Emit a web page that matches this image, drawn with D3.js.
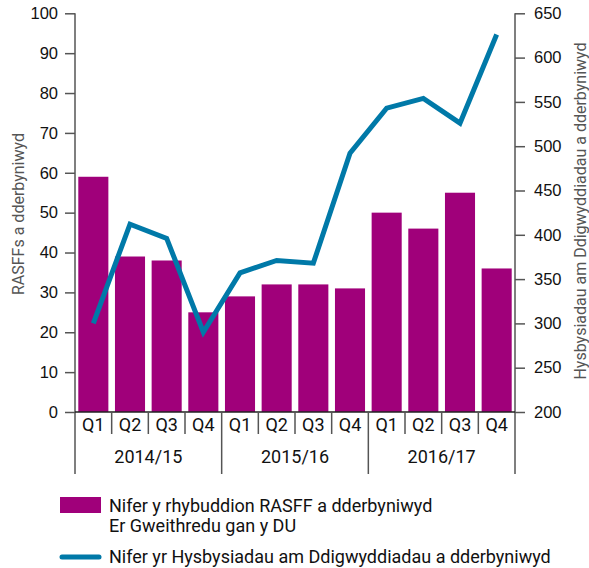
<!DOCTYPE html>
<html><head><meta charset="utf-8">
<script src="https://cdn.jsdelivr.net/npm/d3@7"></script>
<style>body{margin:0;background:#fff}svg{display:block;font-family:Roboto,"Noto Sans",sans-serif}</style>
</head><body><svg id="c" width="589" height="568"></svg>
<script>
const quarters = ["Q1","Q2","Q3","Q4","Q1","Q2","Q3","Q4","Q1","Q2","Q3","Q4"];
const years = ["2014/15","2015/16","2016/17"];
const rasff = [59,39,38,25,29,32,32,31,50,46,55,36];
const incidents = [300,412,396,290,357,371,368,492,543,554,526,626];
const leftTicks = [0,10,20,30,40,50,60,70,80,90,100];
const rightTicks = [200,250,300,350,400,450,500,550,600,650];
const barColor = "#a0007a", lineColor = "#0079a8", axisColor = "#555";

const svg = d3.select("#c");
const L = 75, R = 515, T = 13.3, B = 412;
const x = d3.scaleBand().domain(d3.range(12)).range([L,R]).paddingInner(0.18).paddingOuter(0.09);
const yL = d3.scaleLinear().domain([0,100]).range([B,T]);
const yR = d3.scaleLinear().domain([200,650]).range([B,T]);

// bars
svg.append("g").selectAll("rect").data(rasff).join("rect")
  .attr("x",(d,i)=>x(i)).attr("width",x.bandwidth())
  .attr("y",d=>yL(d)).attr("height",d=>B-yL(d)).attr("fill",barColor);

// line
svg.append("path").datum(incidents)
  .attr("d", d3.line().x((d,i)=>x(i)+x.bandwidth()/2).y(d=>yR(d)))
  .attr("fill","none").attr("stroke",lineColor).attr("stroke-width",5).attr("stroke-linejoin","miter");

// left axis
const gl = svg.append("g").attr("transform",`translate(${L},0)`)
  .call(d3.axisLeft(yL).tickValues(leftTicks).tickSize(10).tickPadding(7));
gl.select(".domain").remove();
gl.selectAll("line").attr("stroke",axisColor).attr("stroke-width",1.5);
gl.selectAll("text").attr("font-size",16.5).attr("fill","#111");
svg.append("line").attr("x1",L).attr("x2",L).attr("y1",T).attr("y2",474).attr("stroke",axisColor).attr("stroke-width",1.5);

// right axis
const gr = svg.append("g").attr("transform",`translate(${R},0)`)
  .call(d3.axisRight(yR).tickValues(rightTicks).tickSize(10).tickPadding(9));
gr.select(".domain").remove();
gr.selectAll("line").attr("stroke",axisColor).attr("stroke-width",1.5);
gr.selectAll("text").attr("font-size",16.5).attr("fill","#111");
svg.append("line").attr("x1",R).attr("x2",R).attr("y1",T).attr("y2",474).attr("stroke",axisColor).attr("stroke-width",1.5);

// baseline
svg.append("line").attr("x1",L).attr("x2",R).attr("y1",B).attr("y2",B).attr("stroke","#222").attr("stroke-width",1.5);

// x axis separators
const step = x.step();
for (let i=1;i<12;i++){
  const xx = L + step*i;
  svg.append("line").attr("x1",xx).attr("x2",xx).attr("y1",B).attr("y2", i%4===0?474:434)
    .attr("stroke",axisColor).attr("stroke-width",1.5);
}
svg.append("g").selectAll("text").data(quarters).join("text")
  .attr("x",(d,i)=>L+step*(i+0.5)).attr("y",430.5).attr("text-anchor","middle")
  .attr("font-size",18).attr("fill","#111").text(d=>d);
svg.append("g").selectAll("text").data(years).join("text")
  .attr("x",(d,i)=>L+step*(i*4+2)).attr("y",462.5).attr("text-anchor","middle")
  .attr("font-size",18).attr("fill","#111").text(d=>d);

// axis titles
svg.append("text").attr("transform","translate(24,214) rotate(-90)").attr("text-anchor","middle")
  .attr("font-size",16).attr("fill",axisColor).text("RASFFs a dderbyniwyd");
svg.append("text").attr("transform","translate(586,211) rotate(-90)").attr("text-anchor","middle")
  .attr("font-size",16).attr("fill",axisColor).text("Hysbysiadau am Ddigwyddiadau a dderbyniwyd");

// legend
svg.append("rect").attr("x",60).attr("y",497).attr("width",41).attr("height",16).attr("fill",barColor);
svg.append("text").attr("x",109).attr("y",511.5).attr("font-size",18).attr("fill","#111").text("Nifer y rhybuddion RASFF a dderbyniwyd");
svg.append("text").attr("x",109).attr("y",531.5).attr("font-size",18).attr("fill","#111").text("Er Gweithredu gan y DU");
svg.append("line").attr("x1",62).attr("x2",99).attr("y1",557).attr("y2",557).attr("stroke",lineColor).attr("stroke-width",5).attr("stroke-linecap","round");
svg.append("text").attr("x",109).attr("y",563).attr("font-size",18).attr("fill","#111").text("Nifer yr Hysbysiadau am Ddigwyddiadau a dderbyniwyd");
</script></body></html>
